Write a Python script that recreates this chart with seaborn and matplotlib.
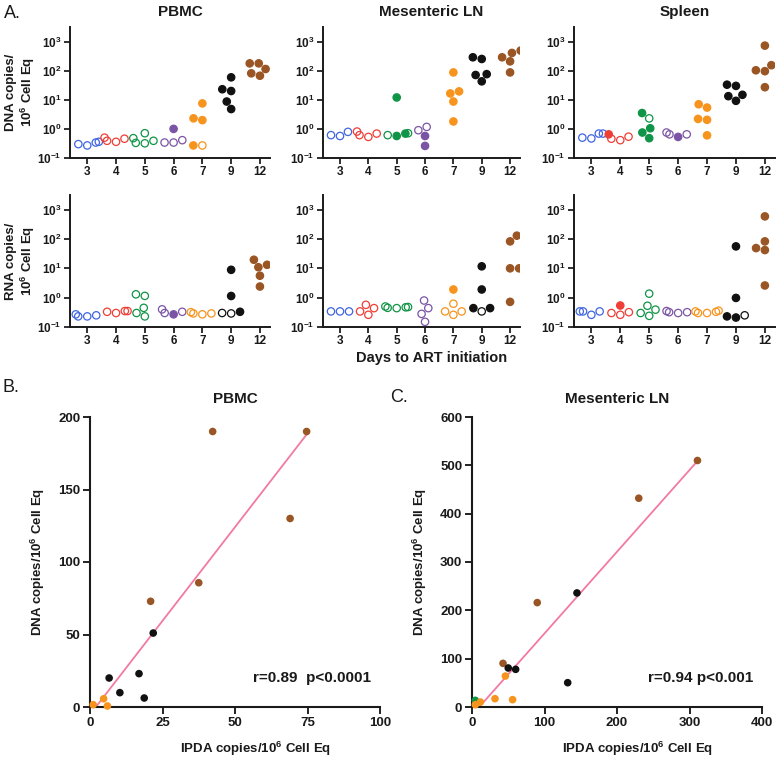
import matplotlib.pyplot as plt
import matplotlib.ticker as mticker
import pandas as pd
import seaborn as sns

sns.set_style("ticks")
plt.rcParams["font.family"] = ["Liberation Sans", "DejaVu Sans"]
plt.rcParams["mathtext.default"] = "regular"
plt.rcParams["text.color"] = "#1a1a1a"
plt.rcParams["axes.labelcolor"] = "#1a1a1a"
plt.rcParams["xtick.color"] = "#1a1a1a"
plt.rcParams["ytick.color"] = "#1a1a1a"

days = ["3", "4", "5", "6", "7", "9", "12"]
day_colors = ["#4065e0", "#ef3e36", "#109447", "#7b55a5", "#f7941d", "#111111", "#9a5524"]
palette = dict(zip(days, day_colors))

# swarm panels: day of ART start, copies / 10^6 cell eq, filled (1) or open (0) marker
pbmc_dna_day = [3, 3, 3, 3, 4, 4, 4, 4, 5, 5, 5, 5, 5, 6, 6, 6, 6, 7, 7, 7, 7, 7, 9, 9, 9, 9, 9, 12, 12, 12, 12, 12]
pbmc_dna_val = [0.27, 0.34, 0.30, 0.36, 0.36, 0.50, 0.39, 0.46, 0.71, 0.48, 0.32, 0.33, 0.39,
                1.0, 0.34, 0.41, 0.34, 0.27, 0.27, 2.0, 2.3, 7.5, 59, 20, 23, 8.7, 4.8, 178, 178, 114, 67, 81]
pbmc_dna_fill = [0, 0, 0, 0, 0, 0, 0, 0, 0, 0, 0, 0, 0, 1, 0, 0, 0, 0, 1, 1, 1, 1, 1, 1, 1, 1, 1, 1, 1, 1, 1, 1]

mln_dna_day = [3, 3, 3, 4, 4, 4, 4, 5, 5, 5, 5, 5, 6, 6, 6, 6, 7, 7, 7, 7, 7, 9, 9, 9, 9, 9, 12, 12, 12, 12, 12]
mln_dna_val = [0.57, 0.79, 0.61, 0.53, 0.81, 0.61, 0.69, 0.57, 0.71, 0.61, 0.69, 12,
               0.90, 1.17, 0.57, 0.26, 87, 16.5, 19.4, 8.7, 1.8, 288, 252, 43, 76, 71, 490, 288, 407, 209, 87]
mln_dna_fill = [0, 0, 0, 0, 0, 0, 0, 1, 0, 0, 1, 1, 0, 0, 1, 1, 1, 1, 1, 1, 1, 1, 1, 1, 1, 1, 1, 1, 1, 1, 1]

spl_dna_day = [3, 3, 3, 3, 4, 4, 4, 4, 5, 5, 5, 5, 5, 6, 6, 6, 6, 7, 7, 7, 7, 7, 9, 9, 9, 9, 9, 12, 12, 12, 12, 12]
spl_dna_val = [0.47, 0.69, 0.50, 0.69, 0.65, 0.41, 0.46, 0.54, 2.3, 3.5, 1.05, 0.75, 0.48,
               0.53, 0.75, 0.65, 0.65, 7.0, 5.4, 2.2, 2.05, 0.60, 33, 30, 14.8, 13.3, 9.2, 725, 154, 96, 103, 27]
spl_dna_fill = [0, 0, 0, 0, 1, 0, 0, 0, 0, 1, 1, 1, 1, 1, 0, 0, 0, 1, 1, 1, 1, 1, 1, 1, 1, 1, 1, 1, 1, 1, 1, 1]

pbmc_rna_day = [3, 3, 3, 3, 4, 4, 4, 4, 5, 5, 5, 5, 5, 6, 6, 6, 6, 7, 7, 7, 7, 9, 9, 9, 9, 9, 12, 12, 12, 12, 12]
pbmc_rna_val = [0.23, 0.25, 0.23, 0.27, 0.30, 0.35, 0.33, 0.35, 1.15, 1.3, 0.45, 0.30, 0.23,
                0.27, 0.40, 0.30, 0.33, 0.29, 0.32, 0.29, 0.27, 8.9, 1.14, 0.33, 0.29, 0.30, 19.6, 10.9, 13.2, 5.6, 2.4]
pbmc_rna_fill = [0, 0, 0, 0, 0, 0, 0, 0, 0, 0, 0, 0, 0, 1, 0, 0, 0, 0, 0, 0, 0, 1, 1, 1, 0, 0, 1, 1, 1, 1, 1]

mln_rna_day = [3, 3, 3, 4, 4, 4, 4, 5, 5, 5, 5, 5, 6, 6, 6, 6, 7, 7, 7, 7, 7, 9, 9, 9, 9, 9, 12, 12, 12, 12, 12]
mln_rna_val = [0.34, 0.34, 0.34, 0.57, 0.26, 0.44, 0.34, 0.44, 0.48, 0.50, 0.47, 0.45,
               0.80, 0.44, 0.28, 0.15, 1.9, 0.62, 0.26, 0.34, 0.34, 11.7, 1.9, 0.44, 0.44, 0.34, 130, 83, 10, 10, 0.72]
mln_rna_fill = [0, 0, 0, 0, 0, 0, 0, 0, 0, 0, 0, 0, 0, 0, 0, 0, 1, 0, 0, 0, 0, 1, 1, 1, 1, 0, 1, 1, 1, 1, 1]

spl_rna_day = [3, 3, 3, 3, 4, 4, 4, 4, 5, 5, 5, 5, 5, 6, 6, 6, 6, 7, 7, 7, 7, 7, 9, 9, 9, 9, 9, 12, 12, 12, 12, 12]
spl_rna_val = [0.26, 0.34, 0.34, 0.34, 0.54, 0.26, 0.32, 0.30, 1.37, 0.53, 0.39, 0.24, 0.30,
               0.30, 0.35, 0.32, 0.32, 0.30, 0.33, 0.36, 0.34, 0.30, 56, 0.98, 0.21, 0.25, 0.23, 590, 83, 49, 42, 2.6]
spl_rna_fill = [0, 0, 0, 0, 1, 0, 0, 0, 0, 0, 0, 0, 0, 0, 0, 0, 0, 0, 0, 0, 0, 0, 1, 1, 1, 0, 1, 1, 1, 1, 1, 1]

# correlation panels
pbmc_ipda = [42.3, 74.7, 69, 37.5, 20.9, 21.8, 6.6, 16.9, 10.3, 18.7, 1.1, 4.7, 6.0]
pbmc_dna = [190, 190, 130, 85.7, 72.9, 51, 20, 23, 9.9, 6.2, 1.6, 5.7, 0.7]
pbmc_grp = ["12", "12", "12", "12", "12", "9", "9", "9", "9", "9", "7", "7", "7"]

mln_ipda = [4.6, 311, 230, 90, 42.8, 144.8, 50, 60.2, 132, 46, 31.7, 56, 11.5, 4.6]
mln_dna = [13.8, 510, 432, 216, 90.3, 236, 80.7, 77.9, 50.3, 64, 17.2, 15.2, 10.3, 4.8]
mln_grp = ["5", "12", "12", "12", "12", "9", "9", "9", "9", "7", "7", "7", "7", "7"]

W, H = 780, 758
fig = plt.figure(figsize=(W / 100, H / 100), dpi=100)


def box(left, top, right, bottom):
    return [left / W, 1 - bottom / H, (right - left) / W, (bottom - top) / H]


def style_axes(ax, lw=1.4, tick_size=8.5):
    sns.despine(ax=ax)
    for s in ["left", "bottom"]:
        ax.spines[s].set_linewidth(lw)
        ax.spines[s].set_color("#1a1a1a")
    ax.tick_params(direction="out", length=4, width=lw * 0.9, labelsize=tick_size, pad=2)
    for lab in ax.get_xticklabels() + ax.get_yticklabels():
        lab.set_fontweight("bold")


def swarm_panel(ax, day, val, fill, title=None, ylabel=None, xlabel=None):
    df = pd.DataFrame({"day": [str(d) for d in day], "val": val, "fill": fill})
    sns.swarmplot(data=df, x="day", y="val", hue="day", order=days, hue_order=days,
                  palette=palette, size=5.3, linewidth=0.9, log_scale=(False, True),
                  legend=False, warn_thresh=1, ax=ax)
    for lvl, coll in zip(days, ax.collections):
        fl = df.loc[df["day"] == lvl, "fill"].to_numpy()
        fc = coll.get_facecolors().copy()
        coll.set_edgecolors(fc.copy())
        fc[fl == 0, 3] = 0
        coll.set_facecolors(fc)
    ax.set_xlim(-0.6, 6.35)
    ax.set_ylim(0.1, 3162)
    ax.yaxis.set_minor_locator(mticker.NullLocator())
    ax.set_xlabel(xlabel or "", fontsize=10.5, fontweight="bold")
    if xlabel:
        ax.xaxis.set_label_coords(0.55, -0.18)
    ax.set_ylabel(ylabel or "", fontsize=9.5, fontweight="bold", linespacing=1.1)
    if ylabel:
        ax.yaxis.set_label_coords(-0.165, 0.5)
    if title:
        ax.set_title(title, fontsize=11, fontweight="bold", x=0.55, pad=8)
    style_axes(ax)


cols = [(70, 270), (323, 520), (574, 775)]
top_row = [(pbmc_dna_day, pbmc_dna_val, pbmc_dna_fill, "PBMC"),
           (mln_dna_day, mln_dna_val, mln_dna_fill, "Mesenteric LN"),
           (spl_dna_day, spl_dna_val, spl_dna_fill, "Spleen")]
bottom_row = [(pbmc_rna_day, pbmc_rna_val, pbmc_rna_fill),
              (mln_rna_day, mln_rna_val, mln_rna_fill),
              (spl_rna_day, spl_rna_val, spl_rna_fill)]

for i, ((l, r), (d, v, f, t)) in enumerate(zip(cols, top_row)):
    ax = fig.add_axes(box(l, 27, r, 158))
    swarm_panel(ax, d, v, f, title=t, ylabel="DNA copies/\n10$^6$ Cell Eq" if i == 0 else None)

for i, ((l, r), (d, v, f)) in enumerate(zip(cols, bottom_row)):
    ax = fig.add_axes(box(l, 195, r, 327))
    swarm_panel(ax, d, v, f, ylabel="RNA copies/\n10$^6$ Cell Eq" if i == 0 else None,
                xlabel="Days to ART initiation" if i == 1 else None)


def corr_panel(ax, x, y, grp, title, stat, xmax, ymax, xstep, ystep):
    sns.regplot(x=x, y=y, scatter=False, ci=None, color="#f27aa2", truncate=True,
                line_kws=dict(lw=1.3), ax=ax)
    sns.scatterplot(x=x, y=y, hue=grp, palette=palette, s=30, edgecolor="none",
                    legend=False, clip_on=False, zorder=3, ax=ax)
    ax.set_xlim(0, xmax)
    ax.set_ylim(0, ymax)
    ax.set_xticks(range(0, xmax + 1, xstep))
    ax.set_yticks(range(0, ymax + 1, ystep))
    ax.set_title(title, fontsize=11, fontweight="bold", pad=10)
    ax.set_xlabel("IPDA copies/10$^6$ Cell Eq", fontsize=9.5, fontweight="bold", va="center")
    ax.xaxis.set_label_coords(0.57, -0.145)
    ax.set_ylabel("DNA copies/10$^6$ Cell Eq", fontsize=9.5, fontweight="bold", labelpad=8)
    ax.text(0.97, 0.1, stat, transform=ax.transAxes, ha="right", va="center",
            fontsize=11, fontweight="bold")
    style_axes(ax, lw=1.5, tick_size=9.5)
    ax.tick_params(length=5)


axB = fig.add_axes(box(90, 417, 380, 707))
corr_panel(axB, pbmc_ipda, pbmc_dna, pbmc_grp, "PBMC", "r=0.89  p<0.0001", 100, 200, 25, 50)
axC = fig.add_axes(box(472, 417, 762, 707))
corr_panel(axC, mln_ipda, mln_dna, mln_grp, "Mesenteric LN", "r=0.94 p<0.001", 400, 600, 100, 100)

fig.text(4 / W, 1 - 13 / H, "A.", fontsize=13, va="center", ha="left")
fig.text(2 / W, 1 - 387 / H, "B.", fontsize=13, va="center", ha="left")
fig.text(390 / W, 1 - 398 / H, "C.", fontsize=13, va="center", ha="left")

fig.savefig("out.png", dpi=100)
